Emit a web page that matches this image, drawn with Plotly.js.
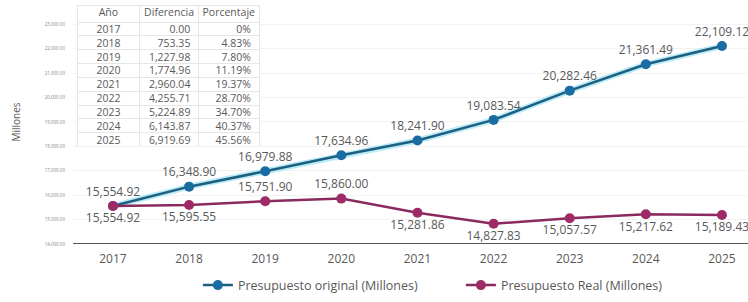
<!DOCTYPE html>
<html>
<head>
<meta charset="utf-8">
<script src="https://cdn.plot.ly/plotly-3.0.1.min.js"></script>
<style>html,body{margin:0;padding:0;background:#fff;}#chart{width:748px;height:302px;}</style>
</head>
<body>
<div id="chart"></div>
<script>
const years = ['2017','2018','2019','2020','2021','2022','2023','2024','2025'];
const original = [15554.92, 16348.90, 16979.88, 17634.96, 18241.90, 19083.54, 20282.46, 21361.49, 22109.12];
const real = [15554.92, 15595.55, 15751.90, 15860.00, 15281.86, 14827.83, 15057.57, 15217.62, 15189.43];
const tableYears = ['2017','2018','2019','2020','2021','2022','2023','2024','2025'];
const tableDiff = ['0.00','753.35','1,227.98','1,774.96','2,960.04','4,255.71','5,224.89','6,143.87','6,919.69'];
const tablePct = ['0%','4.83%','7.80%','11.19%','19.37%','28.70%','34.70%','40.37%','45.56%'];
const tableHeader = ['Año','Diferencia','Porcentaje'];
const yTicks = [14000,15000,16000,17000,18000,19000,20000,21000,22000,23000];

const fmt = v => v.toLocaleString('en-US',{minimumFractionDigits:2,maximumFractionDigits:2});
const gray = '#595959';
const font = 'Open Sans, sans-serif';

const realPos = ['bottom center','bottom center','top center','top center','bottom center','bottom center','bottom center','bottom center','bottom center'];

const colW = [63,59,61];
const tblX = [0.006, 0.277];
const blank = arr => arr.map(() => '');

const traces = [
  {x: years, y: original, type:'scatter', mode:'lines', line:{color:'rgba(120,215,240,0.5)', width:6}, showlegend:false, hoverinfo:'skip'},
  {x: years, y: original, type:'scatter', mode:'lines+markers+text', name:'Presupuesto original (Millones)',
   line:{color:'#1d5f80', width:2.5}, marker:{color:'#1b6ca3', size:10},
   text: original.map(fmt), textposition:'top center', textfont:{family:font, size:12, color:gray}, cliponaxis:false},
  {x: years, y: real, type:'scatter', mode:'lines+markers+text', name:'Presupuesto Real (Millones)',
   line:{color:'#8a2a5d', width:2.5}, marker:{color:'#9e2a66', size:10},
   text: real.map(fmt), textposition: realPos, textfont:{family:font, size:12, color:gray}, cliponaxis:false},
  // grid of the table (lines only)
  {type:'table', domain:{x:tblX, y:[0.399,0.9795]}, columnwidth:colW,
   header:{values: blank(tableHeader), height:17, line:{color:'#e6e6e6', width:1}, fill:{color:'#fff'}},
   cells:{values:[blank(tableYears), blank(tableDiff), blank(tablePct)], height:13.85, line:{color:'#e6e6e6', width:1}, fill:{color:'#fff'}}},
  // text of the table
  {type:'table', domain:{x:tblX, y:[0.37,1.0]}, columnwidth:colW,
   header:{values: tableHeader, align:['center','center','center'], height:17, line:{color:'rgba(0,0,0,0)', width:0}, fill:{color:'rgba(0,0,0,0)'}, font:{family:font, size:10.5, color:gray}},
   cells:{values:[tableYears, tableDiff, tablePct], align:['center','right','right'], height:13.85, line:{color:'rgba(0,0,0,0)', width:0}, fill:{color:'rgba(0,0,0,0)'}, font:{family:font, size:10.5, color:gray}}}
];

const layout = {
  width:748, height:302,
  margin:{l:73, r:0, t:0, b:58},
  paper_bgcolor:'#fff', plot_bgcolor:'#fff',
  font:{family:font, color:gray},
  showlegend:true,
  legend:{orientation:'h', x:0.185, xanchor:'left', y:-0.17, yanchor:'middle', entrywidth:218, font:{family:font, size:12.5, color:gray}, itemwidth:30, tracegroupgap:0},
  xaxis:{type:'category', range:[-0.525, 8.342], showgrid:false, zeroline:false, showline:false, ticks:'', tickfont:{family:font, size:12, color:gray}, ticklabelstandoff:6},
  yaxis:{range:[14000, 23996], tickvals:yTicks, ticktext:yTicks.map(fmt), tickfont:{family:font, size:4.5, color:'#888'},
         showgrid:true, gridcolor:'#f2f2f2', zeroline:false, showline:false, ticklabelstandoff:7,
         title:{text:'Millones', font:{family:font, size:10, color:gray}, standoff:22}},
  shapes:[{type:'line', xref:'paper', yref:'y', x0:0, x1:1, y0:14000, y1:14000, line:{color:'#555', width:2}}]
};

Plotly.newPlot('chart', traces, layout, {displayModeBar:false, staticPlot:true});
</script>
</body>
</html>
